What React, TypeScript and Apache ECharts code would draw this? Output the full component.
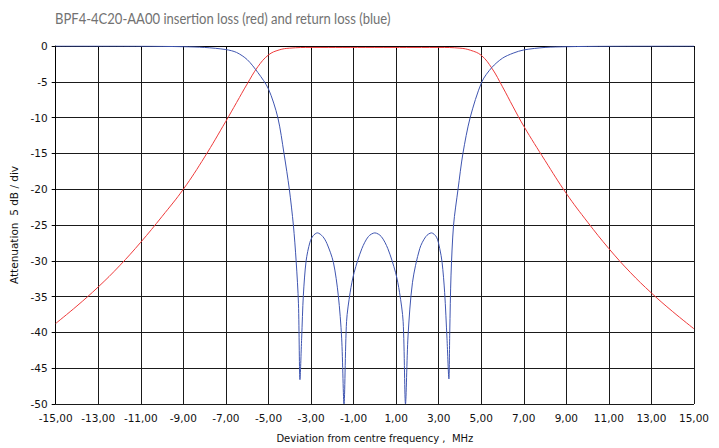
import React, { useEffect, useRef } from "react";
import * as echarts from "echarts";

const TITLE = "BPF4-4C20-AA00 insertion loss (red) and return loss (blue)";
const X_NAME = "Deviation from centre frequency ,  MHz";
const Y_NAME = "Attenuation  5 dB / div";

// Frequency offset from the axis start (MHz): axis runs -15 .. 15
const X_START = -15;

// Insertion loss (red)
const ilFreq = [
  -15, -14, -13, -12, -11, -10, -9, -8, -7, -6.5, -6, -5.5, -5, -4.5, -4, -3, 0,
  3, 4, 4.5, 5, 5.5, 6, 6.5, 7, 8, 9, 10, 11, 12, 13, 14, 15,
];
const ilLoss = [
  -38.75, -36.3, -33.65, -30.7, -27.4, -23.8, -20.0, -15.5, -10.5, -7.9, -5.3,
  -2.9, -1.25, -0.55, -0.3, -0.2, -0.2, -0.2, -0.3, -0.6, -1.3, -3.1, -5.7,
  -8.5, -11.2, -16.0, -20.6, -24.6, -28.3, -31.6, -34.5, -37.1, -39.5,
];

// Return loss (blue)
const rlFreq = [
  -15, -11, -9, -8, -7, -6.5, -6, -5.5, -5, -4.56, -4.27, -4.02, -3.83, -3.7,
  -3.59, -3.52, -3.44, -3.36, -3.23, -3.05, -2.9, -2.7, -2.45, -2.25, -1.95,
  -1.72, -1.56, -1.45, -1.33, -1.16, -0.97, -0.61, -0.3, 0, 0.3, 0.61, 0.97,
  1.16, 1.33, 1.44, 1.56, 1.77, 2.11, 2.4, 2.66, 2.9, 3.05, 3.16, 3.28, 3.39,
  3.48, 3.52, 3.58, 3.7, 3.91, 4.14, 4.48, 5.03, 5.5, 6, 6.5, 7, 8, 9, 11, 15,
];
const rlLoss = [
  0, -0.02, -0.1, -0.2, -0.5, -0.9, -1.9, -3.7, -6.0, -10, -15, -20, -25, -30,
  -36, -46.6, -40.8, -34.8, -30, -27.4, -26.5, -26.1, -26.6, -27.6, -30.2,
  -34.8, -40.8, -50, -38.5, -34.4, -31.6, -28.3, -26.6, -26.1, -26.6, -28.3,
  -31.6, -34.4, -38.5, -50, -40.5, -33, -28.3, -26.6, -26.1, -26.7, -28.3,
  -30.2, -34.4, -40.8, -46.5, -40, -32, -25, -20, -15, -10, -5, -3.0, -1.7,
  -1.0, -0.55, -0.2, -0.1, -0.02, 0,
];

const Y_MIN = -50;
const Y_MAX = 0;
const Y_STEP = 5;
const X_SPAN = 30;
const X_STEP = 2;

const fmtX = (v: number) => (v + X_START).toFixed(2).replace(".", ",");

export default function App() {
  const ref = useRef<HTMLDivElement>(null);
  useEffect(() => {
    if (!ref.current) return;
    const chart = echarts.init(ref.current, null, { renderer: "svg" });
    const toPts = (xs: number[], ys: number[]) =>
      xs.map((x, i) => [x - X_START, ys[i]]);
    const labelFont = {
      fontFamily: "DejaVu Sans",
      fontSize: 10.5,
      color: "#111",
    };
    chart.setOption({
      animation: false,
      backgroundColor: "#fff",
      graphic: [
        {
          type: "text",
          x: 55,
          y: 18,
          scaleX: 0.87,
          style: {
            text: TITLE,
            fontFamily: "Lato",
            fontSize: 15,
            fontWeight: "normal",
            fill: "#727272",
            verticalAlign: "middle",
            align: "left",
          },
        },
      ],
      grid: { left: 55.7, right: 25, top: 46, bottom: 42, containLabel: false },
      xAxis: {
        type: "value",
        min: 0,
        max: X_SPAN,
        interval: X_STEP,
        name: X_NAME,
        nameLocation: "middle",
        nameGap: 29,
        nameTextStyle: { fontFamily: "DejaVu Sans", fontSize: 10, color: "#111" },
        axisLine: { show: true, lineStyle: { color: "#000", width: 1 } },
        axisTick: { show: true, length: 4, lineStyle: { color: "#000" } },
        axisLabel: { ...labelFont, margin: 8, formatter: fmtX },
        splitLine: { show: true, lineStyle: { color: "#1a1a1a", width: 1 } },
      },
      yAxis: {
        type: "value",
        min: Y_MIN,
        max: Y_MAX,
        interval: Y_STEP,
        name: Y_NAME,
        nameLocation: "middle",
        nameRotate: 90,
        nameGap: 36,
        nameTextStyle: { fontFamily: "DejaVu Sans", fontSize: 10.5, color: "#111" },
        axisLine: { show: true, lineStyle: { color: "#000", width: 1 } },
        axisTick: { show: true, length: 4, lineStyle: { color: "#000" } },
        axisLabel: { ...labelFont, margin: 8 },
        splitLine: { show: true, lineStyle: { color: "#1a1a1a", width: 1 } },
      },
      series: [
        {
          name: "insertion loss",
          type: "line",
          data: toPts(ilFreq, ilLoss),
          showSymbol: false,
          smooth: 0.4,
          lineStyle: { color: "#ee3b3b", width: 1 },
          z: 3,
        },
        {
          name: "return loss",
          type: "line",
          data: toPts(rlFreq, rlLoss),
          showSymbol: false,
          smooth: 0.3,
          lineStyle: { color: "#3f55b0", width: 1 },
          z: 4,
        },
      ],
    });
    return () => chart.dispose();
  }, []);
  return (
    <div
      ref={ref}
      style={{ position: "fixed", left: 0, top: 0, width: 719, height: 448 }}
    />
  );
}
